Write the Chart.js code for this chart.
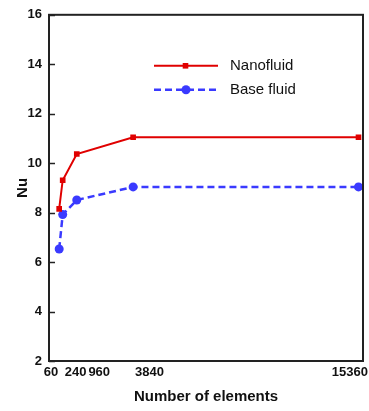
<!DOCTYPE html>
<html>
<head>
<meta charset="utf-8">
<script src="https://cdn.jsdelivr.net/npm/chart.js@4"></script>
<style>
  html, body { margin: 0; padding: 0; background: #fff; }
  #wrap { width: 369px; height: 411px; position: relative; }
</style>
</head>
<body>
<div id="wrap"><canvas id="c" width="369" height="411"></canvas></div>
<script>
// ---- data ----
const elements = [60, 240, 960, 3840, 15360];
const xTickLabels = ['60', '240', '960', '3840', '15360'];
const nanofluid = [8.15, 9.31, 10.37, 11.05, 11.05];
const baseFluid = [6.53, 7.92, 8.51, 9.04, 9.04];
const yTickValues = [2, 4, 6, 8, 10, 12, 14, 16];
const seriesNames = ['Nanofluid', 'Base fluid'];

const FONT = "'Liberation Sans', Arial, sans-serif";
const RED = '#e00000';
const BLUE = '#3a3aff';

function toPoints(xs, ys) { return xs.map((x, i) => ({ x: x, y: ys[i] })); }

// frame + inward y ticks + x labels + legend
const decorPlugin = {
  id: 'decor',
  afterDraw(chart) {
    const ctx = chart.ctx;
    const a = chart.chartArea;
    const xs = chart.scales.x, ys = chart.scales.y;
    ctx.save();
    // inward y tick marks
    ctx.strokeStyle = '#222';
    ctx.lineWidth = 1.5;
    yTickValues.forEach(v => {
      const py = Math.round(ys.getPixelForValue(v)) + 0.5;
      ctx.beginPath();
      ctx.moveTo(a.left, py);
      ctx.lineTo(a.left + 6, py);
      ctx.stroke();
    });
    // frame
    ctx.lineWidth = 2;
    ctx.strokeStyle = '#222';
    ctx.strokeRect(a.left, a.top, a.right - a.left, a.bottom - a.top);

    // x tick labels (packed like the original)
    ctx.font = 'bold 13px ' + FONT;
    ctx.fillStyle = '#111';
    ctx.textBaseline = 'middle';
    ctx.textAlign = 'left';
    let prevRight = -Infinity;
    const ly = a.bottom + 11;
    elements.forEach((v, i) => {
      const w = ctx.measureText(xTickLabels[i]).width;
      const px = xs.getPixelForValue(v);
      let left;
      if (i === 0) left = px - w - 1;
      else left = Math.max(prevRight + 2, px + 2);
      if (left + w > chart.width - 1) left = chart.width - 1 - w;
      ctx.fillText(xTickLabels[i], left, ly);
      prevRight = left + w;
    });

    // legend
    const lx = a.left + 105;
    const lineLen = 64;
    chart.data.datasets.forEach((ds, i) => {
      const y = a.top + 51 + i * 24;
      ctx.strokeStyle = ds.borderColor;
      ctx.lineWidth = ds.borderWidth;
      ctx.setLineDash(ds.borderDash || []);
      ctx.beginPath();
      ctx.moveTo(lx, y);
      ctx.lineTo(lx + lineLen, y);
      ctx.stroke();
      ctx.setLineDash([]);
      ctx.fillStyle = ds.pointBackgroundColor;
      const cx = lx + lineLen / 2;
      if (ds.pointStyle === 'rect') {
        const s = ds.pointRadius * 1.4;
        ctx.fillRect(cx - s / 2 - 0.5, y - s / 2, s, s);
      } else {
        ctx.beginPath();
        ctx.arc(cx, y, ds.pointRadius, 0, Math.PI * 2);
        ctx.fill();
      }
      ctx.fillStyle = '#111';
      ctx.font = '15px ' + FONT;
      ctx.textAlign = 'left';
      ctx.textBaseline = 'middle';
      ctx.fillText(ds.label, lx + lineLen + 12, y);
    });
    ctx.restore();
  }
};

new Chart(document.getElementById('c'), {
  type: 'line',
  data: {
    datasets: [
      {
        label: seriesNames[0],
        data: toPoints(elements, nanofluid),
        borderColor: RED,
        backgroundColor: RED,
        pointBackgroundColor: RED,
        pointBorderColor: RED,
        pointStyle: 'rect',
        pointRadius: 4,
        pointBorderWidth: 0,
        borderWidth: 2,
        tension: 0,
        fill: false
      },
      {
        label: seriesNames[1],
        data: toPoints(elements, baseFluid),
        borderColor: BLUE,
        backgroundColor: BLUE,
        pointBackgroundColor: BLUE,
        pointBorderColor: BLUE,
        pointStyle: 'circle',
        pointRadius: 4.5,
        pointBorderWidth: 0,
        borderWidth: 2.5,
        borderDash: [7, 4],
        tension: 0,
        fill: false
      }
    ]
  },
  options: {
    responsive: false,
    animation: false,
    devicePixelRatio: 1,
    layout: { padding: { top: 12, right: 6, left: 0, bottom: 0 } },
    plugins: { legend: { display: false }, tooltip: { enabled: false } },
    scales: {
      x: {
        type: 'linear',
        min: -460,
        max: 15590,
        grid: { display: false, drawTicks: false },
        border: { display: false },
        ticks: { display: false },
        afterFit(scale) { scale.height = 50; },
        title: {
          display: true,
          text: 'Number of elements',
          color: '#111',
          font: { family: FONT, size: 15, weight: 'bold' },
          padding: { top: 0, bottom: 5 }
        }
      },
      y: {
        min: 2,
        max: 16,
        afterBuildTicks(scale) { scale.ticks = yTickValues.map(v => ({ value: v })); },
        grid: { display: false, drawTicks: false },
        border: { display: false },
        ticks: {
          color: '#111',
          padding: 7,
          font: { family: FONT, size: 13, weight: 'bold' },
          callback: v => String(v)
        },
        afterFit(scale) { scale.width = 49; },
        title: {
          display: true,
          text: 'Nu',
          color: '#111',
          font: { family: FONT, size: 15, weight: 'bold' },
          padding: { top: 14, bottom: 0 }
        }
      }
    }
  },
  plugins: [decorPlugin]
});
</script>
</body>
</html>
